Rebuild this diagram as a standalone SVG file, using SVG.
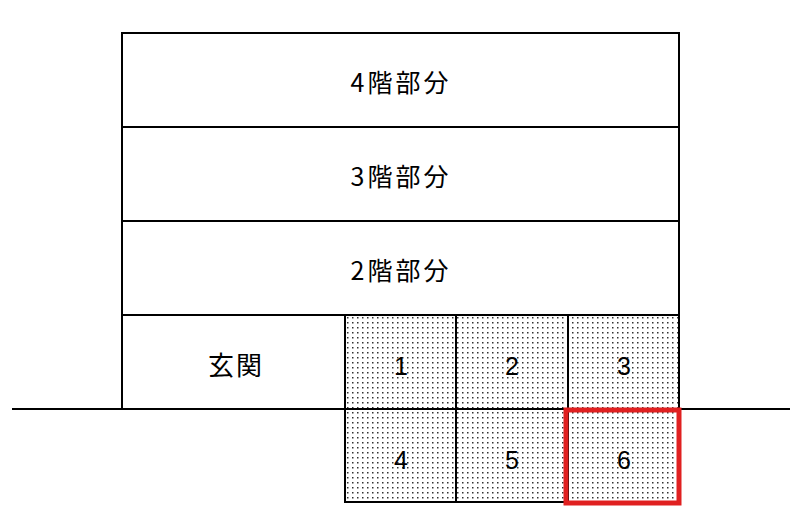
<svg xmlns="http://www.w3.org/2000/svg" width="800" height="522" viewBox="0 0 800 522">
<defs>
<pattern id="dots" x="0" y="0" width="5" height="5" patternUnits="userSpaceOnUse">
<rect x="2" y="2" width="1.5" height="1.5" fill="#333"/>
</pattern>
</defs>
<style>
.box{fill:#fff;stroke:#000;stroke-width:2}
.cell{fill:url(#dots);stroke:#000;stroke-width:2}
.t{font-family:"Noto Sans CJK JP","Liberation Sans",sans-serif;font-size:25px;letter-spacing:3px;fill:#000;text-anchor:middle;dominant-baseline:central}
.n{font-family:"Liberation Sans",sans-serif;font-size:25px;fill:#000;text-anchor:middle;dominant-baseline:central}
</style>
<rect width="800" height="522" fill="#fff"/>
<g id="floor4"><rect class="box" x="122" y="33" width="557" height="94"/><text class="t" x="401" y="81">4階部分</text></g>
<g id="floor3"><rect class="box" x="122" y="127" width="557" height="94"/><text class="t" x="401" y="175">3階部分</text></g>
<g id="floor2"><rect class="box" x="122" y="221" width="557" height="94"/><text class="t" x="401" y="269">2階部分</text></g>
<g id="entrance"><rect class="box" x="122" y="315" width="223" height="94"/><text class="t" x="236" y="363" style="font-size:26px;letter-spacing:2px">玄関</text></g>
<g id="c1"><rect class="cell" x="345" y="315" width="111" height="94"/><text class="n" x="401" y="366">1</text></g>
<g id="c2"><rect class="cell" x="456" y="315" width="112" height="94"/><text class="n" x="512" y="366">2</text></g>
<g id="c3"><rect class="cell" x="568" y="315" width="111" height="94"/><text class="n" x="624" y="366">3</text></g>
<g id="c4"><rect class="cell" x="345" y="409" width="111" height="93"/><text class="n" x="401" y="460">4</text></g>
<g id="c5"><rect class="cell" x="456" y="409" width="112" height="93"/><text class="n" x="512" y="460">5</text></g>
<g id="c6"><rect class="cell" x="568" y="409" width="111" height="93"/><text class="n" x="624" y="460">6</text></g>
<g id="connectors">
<line x1="12" y1="409" x2="790" y2="409" stroke="#000" stroke-width="2"/>
</g>
<g id="highlight"><rect x="566" y="410" width="113" height="93" fill="none" stroke="#e02020" stroke-width="5"/></g>
</svg>
